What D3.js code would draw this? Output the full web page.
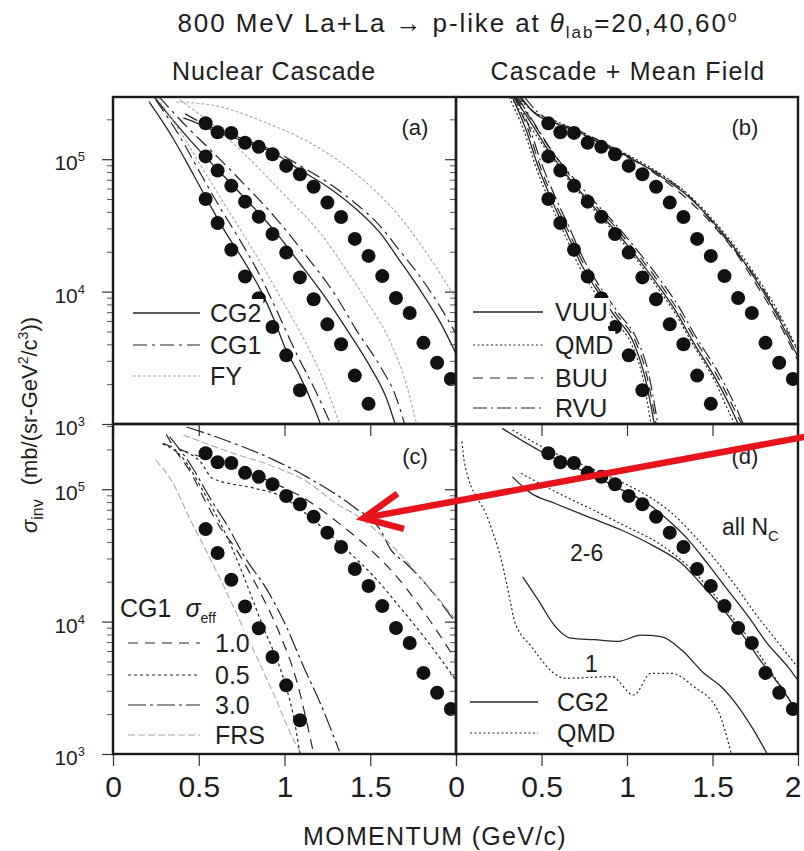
<!DOCTYPE html>
<html>
<head>
<meta charset="utf-8">
<script src="https://cdn.jsdelivr.net/npm/d3@7"></script>
<style>
  body { margin: 0; background: #fff; }
  svg { display: block; }
  text { font-family: "Liberation Sans", Arial, Helvetica, sans-serif; fill: #1e1e1e; }
</style>
</head>
<body>
<svg id="chart" width="804" height="851"></svg>
<script>
// ---------------- measured proton spectra (momentum GeV/c, sigma_inv) ----------------
const pExp   = [0.54, 0.61, 0.69, 0.77, 0.85, 0.93, 1.01, 1.09, 1.17, 1.25, 1.33, 1.41, 1.49, 1.57, 1.65, 1.73, 1.81, 1.89, 1.97];
const exp20  = [1.87e5, 1.60e5, 1.58e5, 1.33e5, 1.24e5, 1.09e5, 8.9e4, 7.7e4, 6.2e4, 4.7e4, 3.66e4, 2.5e4, 1.86e4, 1.31e4, 8.95e3, 6.9e3, 4.1e3, 2.9e3, 2.19e3];
const exp40  = [1.05e5, 8.2e4, 6.3e4, 4.78e4, 3.68e4, 2.72e4, 1.97e4, 1.28e4, 8.75e3, 5.66e3, 4.0e3, 2.32e3, 1.42e3];
const exp60  = [5.0e4, 3.3e4, 2.07e4, 1.30e4, 8.9e3, 5.4e3, 3.3e3, 1.8e3];

// ---------------- (a) nuclear cascade: CG2, CG1, FY ----------------
const cg2A20 = [[0.41,2.05e5],[0.5,1.85e5],[0.6,1.62e5],[0.74,1.4e5],[0.94,1.11e5],[1.09,8.3e4],[1.25,6.2e4],[1.4,4.4e4],[1.56,2.75e4],[1.67,1.73e4],[1.79,1.03e4],[1.91,5.8e3],[2.0,3.4e3]];
const cg1A20 = [[0.42,2.2e5],[0.55,1.8e5],[0.74,1.45e5],[0.94,1.15e5],[1.1,8.8e4],[1.25,6.7e4],[1.4,4.8e4],[1.56,3.1e4],[1.67,2.05e4],[1.79,1.3e4],[1.91,7.6e3],[2.0,4.8e3]];
const fyA20  = [[0.37,2.7e5],[0.57,2.57e5],[0.9,1.87e5],[1.19,1.24e5],[1.48,6.6e4],[1.67,3.7e4],[1.87,1.63e4],[2.0,8.8e3]];
const cg2A40 = [[0.24,2.95e5],[0.39,1.71e5],[0.51,1.14e5],[0.64,7.6e4],[0.78,4.9e4],[0.94,2.9e4],[1.09,1.63e4],[1.25,8.6e3],[1.38,4.8e3],[1.5,2.7e3],[1.6,1.5e3],[1.645,1.0e3]];
const cg1A40 = [[0.27,2.95e5],[0.43,1.76e5],[0.57,1.17e5],[0.74,7.0e4],[0.94,3.7e4],[1.13,1.84e4],[1.29,9.7e3],[1.42,5.1e3],[1.56,2.7e3],[1.65,1.6e3],[1.7,1.0e3]];
const fyA40  = [[0.39,2.8e5],[0.57,1.87e5],[0.78,1.05e5],[1.01,5.2e4],[1.21,2.75e4],[1.36,1.46e4],[1.5,7.7e3],[1.62,4.1e3],[1.71,2.0e3],[1.77,1.0e3]];
const cg2A60 = [[0.21,2.72e5],[0.35,1.44e5],[0.47,7.6e4],[0.57,4.4e4],[0.66,2.75e4],[0.76,1.73e4],[0.86,1.03e4],[0.94,6.1e3],[1.01,3.6e3],[1.09,2.3e3],[1.17,1.35e3],[1.21,1.0e3]];
const cg1A60 = [[0.25,2.8e5],[0.39,1.48e5],[0.51,7.8e4],[0.62,4.4e4],[0.74,2.45e4],[0.86,1.3e4],[0.97,6.5e3],[1.07,3.4e3],[1.17,1.9e3],[1.27,1.0e3]];
const fyA60  = [[0.26,2.9e5],[0.4,1.55e5],[0.52,8.6e4],[0.64,4.8e4],[0.76,2.7e4],[0.88,1.5e4],[1.0,8.0e3],[1.12,4.2e3],[1.23,2.1e3],[1.32,1.0e3]];

// ---------------- (b) cascade + mean field: VUU, QMD, BUU, RVU ----------------
const vuu20 = [[0.38,2.95e5],[0.46,2.22e5],[0.58,1.87e5],[0.73,1.57e5],[0.89,1.24e5],[1.04,9.9e4],[1.2,7.4e4],[1.36,5.2e4],[1.51,3.28e4],[1.65,1.95e4],[1.74,1.3e4],[1.86,7.3e3],[2.0,3.2e3]];
const qmd20 = [[0.36,2.95e5],[0.45,2.3e5],[0.58,1.95e5],[0.73,1.6e5],[0.89,1.28e5],[1.04,1.02e5],[1.2,7.7e4],[1.36,5.4e4],[1.51,3.4e4],[1.65,2.05e4],[1.74,1.4e4],[1.86,8.0e3],[2.0,3.6e3]];
const buu20 = [[0.37,2.95e5],[0.47,2.2e5],[0.58,1.9e5],[0.73,1.62e5],[0.89,1.27e5],[1.04,1.0e5],[1.2,7.2e4],[1.36,4.9e4],[1.51,3.1e4],[1.65,1.85e4],[1.74,1.22e4],[1.86,6.8e3],[2.0,3.0e3]];
const rvu20 = [[0.4,2.95e5],[0.48,2.25e5],[0.6,1.85e5],[0.75,1.52e5],[0.9,1.2e5],[1.05,9.6e4],[1.2,7.6e4],[1.36,5.3e4],[1.51,3.2e4],[1.65,1.9e4],[1.74,1.35e4],[1.86,7.6e3],[2.0,3.5e3]];
const vuu40 = [[0.34,2.95e5],[0.44,1.87e5],[0.54,1.17e5],[0.64,7.8e4],[0.77,4.9e4],[0.91,3.1e4],[1.04,1.95e4],[1.16,1.22e4],[1.28,7.3e3],[1.39,4.1e3],[1.51,2.3e3],[1.61,1.3e3],[1.65,1.0e3]];
const qmd40 = [[0.32,2.95e5],[0.43,1.8e5],[0.54,1.12e5],[0.64,7.5e4],[0.77,4.7e4],[0.91,2.95e4],[1.04,1.85e4],[1.16,1.15e4],[1.28,6.9e3],[1.39,3.9e3],[1.51,2.15e3],[1.6,1.2e3],[1.63,1.0e3]];
const buu40 = [[0.35,2.95e5],[0.45,1.9e5],[0.55,1.2e5],[0.65,8.0e4],[0.78,5.0e4],[0.92,3.2e4],[1.05,2.0e4],[1.17,1.26e4],[1.29,7.5e3],[1.4,4.3e3],[1.52,2.4e3],[1.62,1.35e3],[1.67,1.0e3]];
const rvu40 = [[0.36,2.95e5],[0.46,1.85e5],[0.56,1.16e5],[0.66,7.9e4],[0.79,5.1e4],[0.93,3.25e4],[1.06,2.05e4],[1.18,1.3e4],[1.3,7.8e3],[1.41,4.4e3],[1.53,2.5e3],[1.63,1.4e3],[1.68,1.0e3]];
const vuu60 = [[0.33,2.95e5],[0.41,1.66e5],[0.48,8.8e4],[0.56,4.9e4],[0.64,2.92e4],[0.73,1.63e4],[0.81,1.09e4],[0.93,6.5e3],[1.04,4.07e3],[1.1,2.4e3],[1.16,1.0e3]];
const qmd60 = [[0.31,2.95e5],[0.4,1.6e5],[0.47,8.5e4],[0.55,4.7e4],[0.63,2.8e4],[0.72,1.55e4],[0.8,1.04e4],[0.92,6.2e3],[1.03,3.9e3],[1.09,2.3e3],[1.14,1.0e3]];
const buu60 = [[0.34,2.95e5],[0.42,1.7e5],[0.49,9.0e4],[0.57,5.0e4],[0.65,3.0e4],[0.74,1.68e4],[0.82,1.12e4],[0.94,6.7e3],[1.05,4.2e3],[1.11,2.5e3],[1.17,1.0e3]];
const rvu60 = [[0.35,2.95e5],[0.43,1.72e5],[0.5,9.3e4],[0.58,5.2e4],[0.66,3.1e4],[0.75,1.72e4],[0.83,1.15e4],[0.95,6.9e3],[1.06,4.3e3],[1.12,2.6e3],[1.18,1.0e3]];

// ---------------- (c) CG1 with sigma_eff = 1.0, 0.5, 3.0 and FRS ----------------
const s10C20 = [[0.29,2.22e5],[0.51,1.76e5],[0.74,1.4e5],[0.94,1.11e5],[1.13,8.3e4],[1.32,5.5e4],[1.48,3.7e4],[1.64,2.3e4],[1.79,1.3e4],[2.0,5.1e3]];
const s05C20 = [[0.39,1.98e5],[0.51,1.61e5],[0.58,1.21e5],[0.82,1.02e5],[0.97,9.0e4],[1.17,5.85e4],[1.36,3.5e4],[1.52,2.2e4],[1.67,1.3e4],[1.83,7.2e3],[2.0,3.6e3]];
const s30C20 = [[0.43,2.95e5],[0.6,2.49e5],[0.94,1.66e5],[1.13,1.24e5],[1.4,7.4e4],[1.56,4.9e4],[1.62,3.5e4],[1.71,2.75e4],[1.87,1.63e4],[2.0,9.7e3]];
const frsC20 = [[0.41,2.57e5],[0.7,1.87e5],[0.94,1.48e5],[1.13,1.14e5],[1.29,8.0e4],[1.46,5.85e4],[1.64,3.6e4],[1.79,2.18e4],[2.0,1.03e4]];
const s10C60 = [[0.31,2.6e5],[0.37,1.92e5],[0.45,1.36e5],[0.54,8.05e4],[0.64,4.8e4],[0.7,3.8e4],[0.84,1.84e4],[0.97,8.2e3],[1.07,3.6e3],[1.17,1.0e3]];
const s05C60 = [[0.29,2.2e5],[0.41,1.7e5],[0.505,1.08e5],[0.58,7.2e4],[0.66,4.5e4],[0.74,2.6e4],[0.82,1.4e4],[0.88,8.8e3],[0.94,5.8e3],[1.01,3.2e3],[1.05,2.0e3],[1.09,1.0e3]];
const s30C60 = [[0.33,2.5e5],[0.45,1.55e5],[0.585,7.8e4],[0.66,5.5e4],[0.76,3.2e4],[0.915,1.6e4],[1.01,9.2e3],[1.11,4.6e3],[1.21,2.4e3],[1.32,1.05e3]];
const frsC60 = [[0.25,1.65e5],[0.34,1.17e5],[0.45,5.9e4],[0.55,3.3e4],[0.65,1.8e4],[0.75,9.5e3],[0.85,5.0e3],[0.95,2.6e3],[1.05,1.3e3],[1.1,1.0e3]];

// ---------------- (d) 20 deg, sorted by charged multiplicity N_C ----------------
const allCG2 = [[0.27,2.88e5],[0.5,1.92e5],[0.77,1.32e5],[0.97,9.9e4],[1.12,7.8e4],[1.24,5.85e4],[1.36,4.13e4],[1.47,2.75e4],[1.59,1.73e4],[1.71,1.09e4],[1.82,6.85e3],[1.94,4.57e3],[2.0,3.6e3]];
const allQMD = [[0.33,2.8e5],[0.54,1.98e5],[0.81,1.4e5],[1.0,1.08e5],[1.16,8.3e4],[1.28,6.3e4],[1.39,4.5e4],[1.51,3.0e4],[1.63,1.9e4],[1.74,1.2e4],[1.86,7.6e3],[2.0,4.5e3]];
const midCG2 = [[0.33,1.24e5],[0.44,9.3e4],[0.58,7.8e4],[0.77,6.2e4],[0.97,4.9e4],[1.16,3.7e4],[1.32,2.75e4],[1.43,1.95e4],[1.55,1.3e4],[1.67,8.15e3],[1.78,5.1e3],[1.9,3.2e3],[2.0,2.03e3]];
const midQMD = [[0.38,1.32e5],[0.58,9.6e4],[0.81,6.9e4],[1.0,5.2e4],[1.2,3.8e4],[1.36,2.6e4],[1.47,1.84e4],[1.59,1.19e4],[1.71,7.5e3],[1.82,4.6e3],[1.94,2.7e3],[2.0,2.0e3]];
const oneCG2 = [[0.39,2.18e4],[0.48,1.46e4],[0.58,9.2e3],[0.67,7.5e3],[0.81,7.3e3],[0.95,7.1e3],[1.08,7.9e3],[1.2,7.7e3],[1.32,6.1e3],[1.45,4.07e3],[1.55,3.23e3],[1.65,2.28e3],[1.74,1.52e3],[1.82,1.0e3]];
const oneQMD = [[0.035,2.3e5],[0.05,1.57e5],[0.19,5.85e4],[0.27,2.75e4],[0.32,1.37e4],[0.34,1.03e4],[0.44,6.5e3],[0.64,3.73e3],[0.91,3.84e3],[1.04,2.79e3],[1.14,4.07e3],[1.26,4.07e3],[1.39,3.23e3],[1.53,2.15e3],[1.61,1.0e3]];

// axis ticks
const xTicks = [0, 0.5, 1, 1.5, 2];
const yMajor = [1e3, 1e4, 1e5];

// ---------------- line styles ----------------
const INK = "#262626";
const styles = {
  solid:   { dash: null,       color: INK,       width: 1.3 },
  cg1:     { dash: "14,5,3,5", color: INK,       width: 1.2 },
  fy:      { dash: "3,2",      color: "#a8a8a8", width: 1.1 },
  dot:     { dash: "2,2.5",    color: INK,       width: 1.2 },
  dash:    { dash: "10,7",     color: INK,       width: 1.2 },
  dashdot: { dash: "14,4,2,4", color: INK,       width: 1.2 },
  s05:     { dash: "3,3",      color: INK,       width: 1.2 },
  s30:     { dash: "18,4,3,4", color: INK,       width: 1.2 },
  frs:     { dash: "7,3",      color: "#a8a8a8", width: 1.1 }
};

const svg = d3.select("#chart");
const XL = 113, XM = 456, XR = 798;
const YT = 97, YM = 424, YB = 754;

const panels = [
  { key: "a", xr: [XL, XM], yr: [YM, YT], ymax: 2.95e5, left: true,  bottom: false,
    curves: [[cg2A20,"solid"],[cg1A20,"cg1"],[fyA20,"fy"],[cg2A40,"solid"],[cg1A40,"cg1"],[fyA40,"fy"],[cg2A60,"solid"],[cg1A60,"cg1"],[fyA60,"fy"]],
    sets: [exp20, exp40, exp60] },
  { key: "b", xr: [XM, XR], yr: [YM, YT], ymax: 2.95e5, left: false, bottom: false,
    curves: [[vuu20,"solid"],[qmd20,"dot"],[buu20,"dash"],[rvu20,"dashdot"],[vuu40,"solid"],[qmd40,"dot"],[buu40,"dash"],[rvu40,"dashdot"],[vuu60,"solid"],[qmd60,"dot"],[buu60,"dash"],[rvu60,"dashdot"]],
    sets: [exp20, exp40, exp60] },
  { key: "c", xr: [XL, XM], yr: [YB, YM], ymax: 3.11e5, left: true,  bottom: true,
    curves: [[s10C20,"dash"],[s05C20,"s05"],[s30C20,"s30"],[frsC20,"frs"],[s10C60,"dash"],[s05C60,"s05"],[s30C60,"s30"],[frsC60,"frs"]],
    sets: [exp20, exp60] },
  { key: "d", xr: [XM, XR], yr: [YB, YM], ymax: 3.11e5, left: false, bottom: true,
    curves: [[allCG2,"solid"],[allQMD,"dot"],[midCG2,"solid"],[midQMD,"dot"],[oneCG2,"solid"],[oneQMD,"dot"]],
    sets: [exp20] }
];

const defs = svg.append("defs");

panels.forEach(P => {
  P.x = d3.scaleLinear().domain([0, 2]).range(P.xr);
  P.y = d3.scaleLog().domain([1e3, P.ymax]).range(P.yr);
  const g = svg.append("g").attr("class", "panel-" + P.key);
  P.g = g;

  defs.append("clipPath").attr("id", "clip-" + P.key)
    .append("rect")
    .attr("x", P.xr[0]).attr("y", P.yr[1])
    .attr("width", P.xr[1] - P.xr[0]).attr("height", P.yr[0] - P.yr[1]);

  // minor + major ticks on the left edge (pointing outward)
  const minor = [];
  yMajor.forEach(m => { for (let k = 2; k <= 9; k++) if (m * k <= P.ymax) minor.push(m * k); });
  g.append("g").attr("transform", `translate(${P.xr[0]},0)`)
    .call(d3.axisLeft(P.y).tickValues(minor).tickSize(6).tickFormat(""))
    .call(a => a.select(".domain").remove())
    .selectAll("line").attr("stroke", "#555").attr("stroke-width", 1);
  g.append("g").attr("transform", `translate(${P.xr[0]},0)`)
    .call(d3.axisLeft(P.y).tickValues(yMajor).tickSize(11).tickFormat(""))
    .call(a => a.select(".domain").remove())
    .selectAll("line").attr("stroke", "#333").attr("stroke-width", 1.2);

  // x ticks along the bottom edge (pointing outward)
  const xa = g.append("g").attr("transform", `translate(0,${P.yr[0]})`)
    .call(d3.axisBottom(P.x).tickValues(xTicks).tickSize(12).tickPadding(10)
      .tickFormat(d => (P.bottom && !(P.left && d === 2)) ? String(d) : ""));
  xa.select(".domain").remove();
  xa.selectAll("line").attr("stroke", "#333").attr("stroke-width", 1.2);
  xa.selectAll("text").style("font-family", '"Liberation Sans", Arial, sans-serif')
    .style("font-size", "30px").attr("fill", "#1e1e1e");
  // keep the last label of the right-hand axis inside the page
  if (!P.left) xa.selectAll(".tick").filter(d => d === 2).select("text").attr("text-anchor", "end").attr("dx", 3);

  // y tick labels 10^n for the left column
  if (P.left) {
    yMajor.forEach(v => {
      const t = g.append("text")
        .attr("x", P.xr[0] - 28).attr("y", P.y(v) + 11)
        .attr("text-anchor", "end").style("font-size", "21px");
      t.append("tspan").text("10");
      t.append("tspan").attr("dy", -9).style("font-size", "13px").text(String(Math.round(Math.log10(v))));
    });
  }

  const plot = g.append("g").attr("clip-path", `url(#clip-${P.key})`);
  const line = d3.line().x(d => P.x(d[0])).y(d => P.y(d[1])).curve(d3.curveMonotoneX);
  P.curves.forEach(([data, st]) => {
    const s = styles[st];
    plot.append("path").attr("d", line(data))
      .attr("fill", "none").attr("stroke", s.color).attr("stroke-width", s.width)
      .attr("stroke-dasharray", s.dash);
  });
  P.sets.forEach(vals => {
    plot.selectAll(null).data(vals).join("circle")
      .attr("cx", (d, i) => P.x(pExp[i])).attr("cy", d => P.y(d))
      .attr("r", 7).attr("fill", "#111");
  });
});

// ---------------- legends: each entry sits on its own opaque patch ----------------
function legend(P, x0, x1, xt, rows, fs) {
  rows.forEach(r => {
    const lg = P.g.append("g");
    const box = lg.append("rect").attr("fill", "#fff");
    if (r.style) {
      const s = styles[r.style];
      lg.append("line").attr("x1", x0).attr("x2", x1).attr("y1", r.y).attr("y2", r.y)
        .attr("stroke", s.color).attr("stroke-width", s.width).attr("stroke-dasharray", s.dash);
    }
    const t = lg.append("text").attr("x", r.x != null ? r.x : xt).attr("y", r.y + fs * 0.36)
      .style("font-size", fs + "px");
    r.parts.forEach(p => {
      const ts = t.append("tspan").text(p.t);
      if (p.sub) ts.attr("dy", 6).style("font-size", "14px");
      if (p.italic) ts.style("font-style", "italic");
      if (p.dx) ts.attr("dx", p.dx);
    });
    const bb = lg.node().getBBox();
    box.attr("x", bb.x - 2).attr("y", bb.y).attr("width", bb.width + 4).attr("height", bb.height);
  });
}

legend(panels[0], 133, 200, 210, [
  { y: 313, style: "solid", parts: [{ t: "CG2" }] },
  { y: 345, style: "cg1",   parts: [{ t: "CG1" }] },
  { y: 376, style: "fy",    parts: [{ t: "FY" }] }
], 25);

legend(panels[1], 473, 543, 555, [
  { y: 312, style: "solid",   parts: [{ t: "VUU" }] },
  { y: 345, style: "dot",     parts: [{ t: "QMD" }] },
  { y: 378, style: "dash",    parts: [{ t: "BUU" }] },
  { y: 408, style: "dashdot", parts: [{ t: "RVU" }] }
], 25);

legend(panels[2], 128, 200, 215, [
  { y: 608, x: 120, parts: [{ t: "CG1" }, { t: "σ", italic: true, dx: 14 }, { t: "eff", sub: true }] },
  { y: 643, style: "dash", parts: [{ t: "1.0" }] },
  { y: 675, style: "s05",  parts: [{ t: "0.5" }] },
  { y: 705, style: "s30",  parts: [{ t: "3.0" }] },
  { y: 735, style: "frs",  parts: [{ t: "FRS" }] }
], 25);

legend(panels[3], 470, 538, 557, [
  { y: 702, style: "solid", parts: [{ t: "CG2" }] },
  { y: 733, style: "dot",   parts: [{ t: "QMD" }] }
], 25);

// multiplicity class labels in (d)
const pd = panels[3];
pd.g.append("text").attr("x", 722).attr("y", 535).style("font-size", "23px")
  .call(t => { t.append("tspan").text("all N"); t.append("tspan").attr("dy", 6).style("font-size", "15px").text("C"); });
pd.g.append("text").attr("x", 570).attr("y", 561).style("font-size", "23px").text("2-6");
pd.g.append("text").attr("x", 585).attr("y", 672).style("font-size", "23px").text("1");

// panel tags
[["(a)", 415, 135], ["(b)", 745, 135], ["(c)", 415, 464], ["(d)", 745, 464]].forEach(([s, x, y]) => {
  svg.append("text").attr("x", x).attr("y", y).attr("text-anchor", "middle").style("font-size", "22px").text(s);
});

// panel frames
panels.forEach(P => {
  svg.append("rect").attr("x", P.xr[0]).attr("y", P.yr[1])
    .attr("width", P.xr[1] - P.xr[0]).attr("height", P.yr[0] - P.yr[1])
    .attr("fill", "none").attr("stroke", "#1a1a1a").attr("stroke-width", 2.4);
});

// ---------------- titles ----------------
svg.append("text").attr("x", 458).attr("y", 32).attr("text-anchor", "middle")
  .style("font-size", "26px").style("letter-spacing", "1.9px")
  .call(t => {
    t.append("tspan").text("800 MeV La+La → p-like at ");
    t.append("tspan").style("font-style", "italic").text("θ");
    t.append("tspan").attr("dy", 6).style("font-size", "17px").text("lab");
    t.append("tspan").attr("dy", -6).text("=20,40,60");
    t.append("tspan").attr("dy", -10).style("font-size", "16px").text("o");
  });
svg.append("text").attr("x", 274).attr("y", 80).attr("text-anchor", "middle")
  .style("font-size", "25px").style("letter-spacing", "0.8px").text("Nuclear Cascade");
svg.append("text").attr("x", 628).attr("y", 80).attr("text-anchor", "middle")
  .style("font-size", "25px").style("letter-spacing", "1.2px").text("Cascade + Mean Field");

// axis titles
svg.append("text").attr("x", 435).attr("y", 845).attr("text-anchor", "middle")
  .style("font-size", "25px").style("letter-spacing", "1.3px").text("MOMENTUM  (GeV/c)");
svg.append("text").attr("transform", "translate(37,425) rotate(-90)").attr("text-anchor", "middle")
  .style("font-size", "22px")
  .call(t => {
    t.append("tspan").style("font-style", "italic").text("σ");
    t.append("tspan").attr("dy", 6).style("font-size", "16px").text("inv");
    t.append("tspan").attr("dy", -6).attr("dx", 14).text("(mb/(sr-GeV");
    t.append("tspan").attr("dy", -9).style("font-size", "14px").text("2");
    t.append("tspan").attr("dy", 9).text("/c");
    t.append("tspan").attr("dy", -9).style("font-size", "14px").text("3");
    t.append("tspan").attr("dy", 9).text("))");
  });

// ---------------- red annotation arrow pointing into (c) ----------------
const pc = panels[2];
const tip = [pc.x(1.46), pc.y(6.05e4)];
const tail = [pc.x(4.06), pc.y(2.52e5)];
const ang = Math.atan2(tail[1] - tip[1], tail[0] - tip[0]);
const headLen = 42, spread = 0.44;
const arm = a => [tip[0] + headLen * Math.cos(ang + a), tip[1] + headLen * Math.sin(ang + a)];
const arrow = svg.append("g").attr("fill", "none").attr("stroke", "#e8141c").attr("stroke-width", 6.5);
arrow.append("line").attr("x1", tail[0]).attr("y1", tail[1]).attr("x2", tip[0] + 4 * Math.cos(ang)).attr("y2", tip[1] + 4 * Math.sin(ang));
arrow.append("path").attr("d", d3.line()([arm(-spread), tip, arm(spread)])).attr("stroke-linejoin", "miter");
</script>
</body>
</html>
